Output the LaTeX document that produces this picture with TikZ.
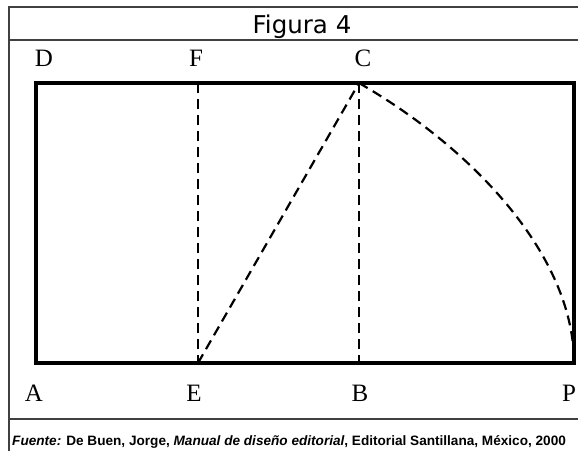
\documentclass[tikz,border=0pt]{standalone}
\usepackage{fontspec}
\setmainfont{Liberation Serif}
\newfontfamily\titlefont{DejaVu Sans}
\newfontfamily\capfont{Liberation Sans}
\begin{document}
\begin{tikzpicture}[x=1pt,y=-1pt,
  frameline/.style={line width=1.4pt,draw=black!75},
  mainrect/.style={line width=3.6pt,draw=black},
  dashline/.style={line width=2.2pt,draw=black,dash pattern=on 10pt off 6pt},
  ptlabel/.style={anchor=base,inner sep=0pt,font=\fontsize{25}{25}\selectfont},
]
\useasboundingbox (0,0) rectangle (578,451);
\fill[white] (0,0) rectangle (578,451);
% outer frame
\coordinate (fTL) at (9,7);
\coordinate (fBL) at (9,451);
\coordinate (fTR) at (578,7);
\coordinate (h1L) at (9,40);
\coordinate (h1R) at (578,40);
\coordinate (h2L) at (9,419);
\coordinate (h2R) at (578,419);
\draw[frameline] (fBL) -- (fTL) -- (fTR);
\draw[frameline] (h1L) -- (h1R);
\draw[frameline] (h2L) -- (h2R);
% title
\node[anchor=base,inner sep=0pt,font=\titlefont\fontsize{24.5}{24.5}\selectfont] (title) at (302,33) {Figura 4};
% points
\coordinate (A) at (36,363);
\coordinate (D) at (36,83);
\coordinate (E) at (198,363);
\coordinate (F) at (198,83);
\coordinate (B) at (359,363);
\coordinate (C) at (359,83);
\coordinate (P) at (574,363);
\coordinate (Q) at (574,83);
% dashed construction
\draw[dashline] (F) -- (E);
\draw[dashline] (C) -- (B);
\draw[dashline] (E) -- (C);
\draw[dashline] (C) .. controls (472,148) and (574,255) .. (P);
% main rectangle
\draw[mainrect,line join=miter] (A) -- (D) -- (Q) -- (P) -- cycle;
% labels
\node[ptlabel] (lD) at (44,66) {D};
\node[ptlabel] (lF) at (196,66) {F};
\node[ptlabel] (lC) at (363,66) {C};
\node[ptlabel] (lA) at (34,401) {A};
\node[ptlabel] (lE) at (194,401) {E};
\node[ptlabel] (lB) at (360,401) {B};
\node[ptlabel] (lP) at (569,401) {P};
% caption
\node[anchor=base west,inner sep=0pt,font=\capfont\bfseries\fontsize{13.6}{13.6}\selectfont] (cap) at (12,445)
  {\textit{Fuente:} De Buen, Jorge, \textit{Manual de diseño editorial}, Editorial Santillana, México, 2000};
\end{tikzpicture}
\end{document}
